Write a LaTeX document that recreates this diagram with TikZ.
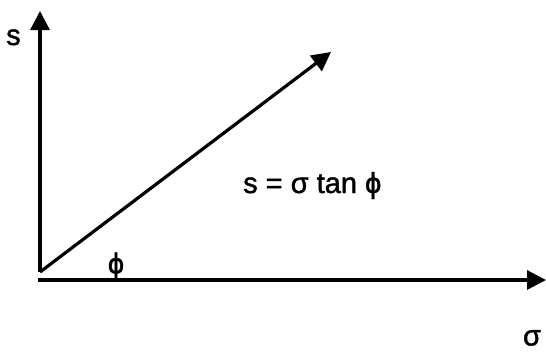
\documentclass[tikz,border=0pt]{standalone}
\usepackage{fontspec}
\setmainfont{Liberation Sans}[FakeBold=1.5]
\usetikzlibrary{arrows.meta}
\begin{document}
\begin{tikzpicture}[x=1pt,y=-1pt,
  axis/.style={line width=3.2pt,-{Triangle[length=19pt,width=19pt]}},
  lbl/.style={inner sep=0pt,font=\fontsize{29}{32}\selectfont}]
\useasboundingbox (0,0) rectangle (546,354);
\coordinate (o) at (40,272);
\coordinate (h0) at (38,280);
\coordinate (htip) at (546,280);
\coordinate (vtip) at (40,11);
\coordinate (dtip) at (331,52);
\draw[axis] (o) -- (vtip);
\draw[axis] (h0) -- (htip);
\draw[axis] (o) -- (dtip);
\node[lbl,anchor=base west] (s) at (6,45) {s};
\node[lbl,anchor=base west] (eq) at (243,193) {s = σ tan ϕ};
\node[lbl] (phi) at (116,266) {ϕ};
\node[lbl] (sigma) at (532,338) {σ};
\end{tikzpicture}
\end{document}
